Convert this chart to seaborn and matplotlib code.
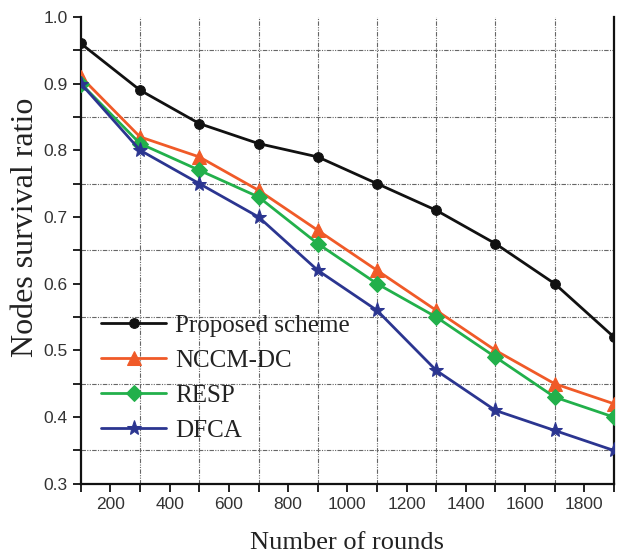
import matplotlib
matplotlib.use("Agg")
import matplotlib.pyplot as plt
from matplotlib.ticker import MultipleLocator
import seaborn as sns
import pandas as pd

rounds = [100, 300, 500, 700, 900, 1100, 1300, 1500, 1700, 1900]
proposed = [0.96, 0.89, 0.84, 0.81, 0.79, 0.75, 0.71, 0.66, 0.60, 0.52]
nccm_dc = [0.91, 0.82, 0.79, 0.74, 0.68, 0.62, 0.56, 0.50, 0.45, 0.42]
resp = [0.90, 0.81, 0.77, 0.73, 0.66, 0.60, 0.55, 0.49, 0.43, 0.40]
dfca = [0.90, 0.80, 0.75, 0.70, 0.62, 0.56, 0.47, 0.41, 0.38, 0.35]
series_names = ["Proposed scheme", "NCCM-DC", "RESP", "DFCA"]
x_ticks = [200, 400, 600, 800, 1000, 1200, 1400, 1600, 1800]
y_ticks = [0.3, 0.4, 0.5, 0.6, 0.7, 0.8, 0.9, 1.0]

colors = ["#111111", "#F05A28", "#22B04B", "#2B3590"]
markers = ["o", "^", "D", "*"]
msizes = [7, 10, 8, 11]

sns.set_style("ticks")

df = pd.concat([
    pd.DataFrame({"rounds": rounds, "ratio": vals, "scheme": name})
    for name, vals in zip(series_names, [proposed, nccm_dc, resp, dfca])
])

fig = plt.figure(figsize=(6.17, 5.6), dpi=100)
ax = fig.add_axes([0.131, 0.136, 0.864, 0.834])

for name, c, m, ms in zip(series_names, colors, markers, msizes):
    sns.lineplot(data=df[df["scheme"] == name], x="rounds", y="ratio", ax=ax,
                 color=c, marker=m, markersize=ms, markeredgecolor=c,
                 linewidth=2, label=name, zorder=3)

ax.set_xlim(100, 1900)
ax.set_ylim(0.3, 1.0)
ax.set_xticks(x_ticks)
ax.set_yticks(y_ticks)
ax.yaxis.set_major_formatter(matplotlib.ticker.FormatStrFormatter("%.1f"))
ax.xaxis.set_minor_locator(MultipleLocator(100))
ax.yaxis.set_minor_locator(MultipleLocator(0.05))

# grid on odd positions only
for xv in range(300, 1900, 200):
    ax.axvline(xv, color="#666666", lw=0.8, ls=(0, (4, 1.2, 1, 1.2, 1, 1.2)), zorder=1)
for yv in [0.35, 0.45, 0.55, 0.65, 0.75, 0.85, 0.95]:
    ax.axhline(yv, color="#666666", lw=0.8, ls=(0, (4, 1.2, 1, 1.2, 1, 1.2)), zorder=1)

for s in ["left", "bottom", "right"]:
    ax.spines[s].set_linewidth(1.6)
    ax.spines[s].set_color("#111111")
ax.spines["top"].set_visible(False)

ax.tick_params(axis="both", which="major", direction="out", length=6, width=1.3,
               labelsize=12.5, labelcolor="#333333", color="#111111")
ax.tick_params(axis="both", which="minor", direction="out", length=6, width=1.3,
               color="#111111")
for lab in ax.get_xticklabels() + ax.get_yticklabels():
    lab.set_fontfamily("Liberation Sans")

ax.set_xlabel("Number of rounds", fontfamily="Liberation Serif", fontsize=19,
              color="#222222")
ax.set_ylabel("Nodes survival ratio", fontfamily="Liberation Serif", fontsize=23,
              color="#222222")
ax.xaxis.set_label_coords(0.5, -0.103)
ax.yaxis.set_label_coords(-0.077, 0.55)

leg = ax.legend(loc="upper left", bbox_to_anchor=(0.015, 0.39), frameon=False,
                prop={"family": "Liberation Serif", "size": 18},
                handlelength=2.6, labelspacing=0.5, borderpad=0, handletextpad=0.35)
for t in leg.get_texts():
    t.set_color("#222222")

fig.savefig("out.png", dpi=100)
